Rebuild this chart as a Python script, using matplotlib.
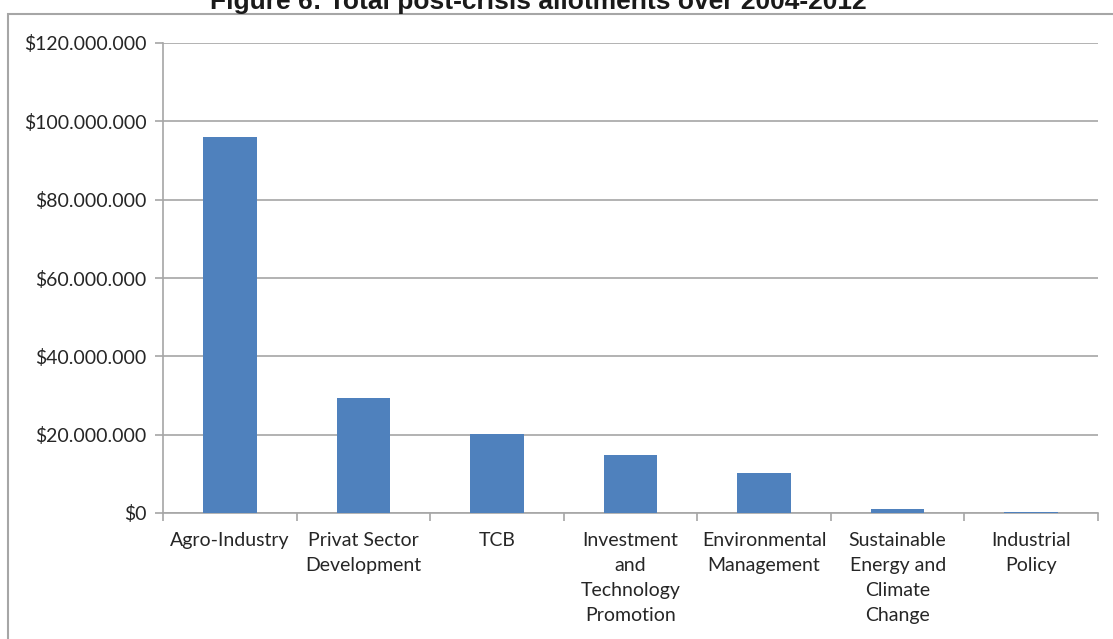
import matplotlib
matplotlib.use("Agg")
import matplotlib.pyplot as plt
from matplotlib.patches import Rectangle
from matplotlib.ticker import FuncFormatter, MultipleLocator

# Values (USD)
categories = [
    "Agro-Industry",
    "Privat Sector\nDevelopment",
    "TCB",
    "Investment\nand\nTechnology\nPromotion",
    "Environmental\nManagement",
    "Sustainable\nEnergy and\nClimate\nChange",
    "Industrial\nPolicy",
]
allotments = [96_000_000, 29_400_000, 20_200_000, 14_800_000, 10_200_000, 1_100_000, 200_000]

W, H = 1113, 639
BAR_COLOR = "#4F81BD"
GRID_COLOR = "#A6A6A6"
TEXT_COLOR = "#262626"


def dollar_fmt(v, _pos):
    return "$" + f"{int(round(v)):,}".replace(",", ".")


fig = plt.figure(figsize=(W / 100, H / 100), dpi=100)
fig.patch.set_facecolor("white")

# outer chart border, cropped at top/right/bottom as in the reference
fig.patches.append(
    Rectangle((8 / W, -0.1), 1.2, 1 - 14 / H + 0.1, transform=fig.transFigure,
              fill=False, edgecolor=GRID_COLOR, linewidth=1.5, clip_on=False)
)

# title sits half outside the page crop, as in the reference
fig.text(538 / W, 1 - 9 / H, "Figure 6: Total post-crisis allotments over 2004-2012",
         ha="center", va="baseline", fontsize=19, fontweight="bold",
         family="Liberation Sans", color="#1a1a1a")

ax = fig.add_axes([163 / W, 1 - 513 / H, (1098 - 163) / W, (513 - 43) / H])
x = list(range(len(categories)))
ax.bar(x, allotments, width=0.4, color=BAR_COLOR, zorder=3)

ax.set_xlim(-0.5, len(categories) - 0.5)
ax.set_ylim(0, 120_000_000)
ax.yaxis.set_major_locator(MultipleLocator(20_000_000))
ax.yaxis.set_major_formatter(FuncFormatter(dollar_fmt))
ax.grid(axis="y", color=GRID_COLOR, linewidth=1.2, zorder=0)

ax.set_xticks(x)
ax.set_xticklabels(categories, linespacing=1.55)
ax.set_xticks([i - 0.5 for i in range(len(categories) + 1)], minor=True)
ax.tick_params(axis="x", which="major", length=0, pad=14)
ax.tick_params(axis="x", which="minor", length=6, color=GRID_COLOR, width=1.2)
ax.tick_params(axis="y", length=6, color=GRID_COLOR, width=1.2, pad=6)
for lbl in ax.get_xticklabels() + ax.get_yticklabels():
    lbl.set_family("Lato")
    lbl.set_fontsize(14)
    lbl.set_color(TEXT_COLOR)
for lbl in ax.get_xticklabels():
    lbl.set_verticalalignment("top")

for side in ("top", "right"):
    ax.spines[side].set_visible(False)
for side in ("left", "bottom"):
    ax.spines[side].set_color(GRID_COLOR)
    ax.spines[side].set_linewidth(1.2)

fig.savefig("out.png", dpi=100)
